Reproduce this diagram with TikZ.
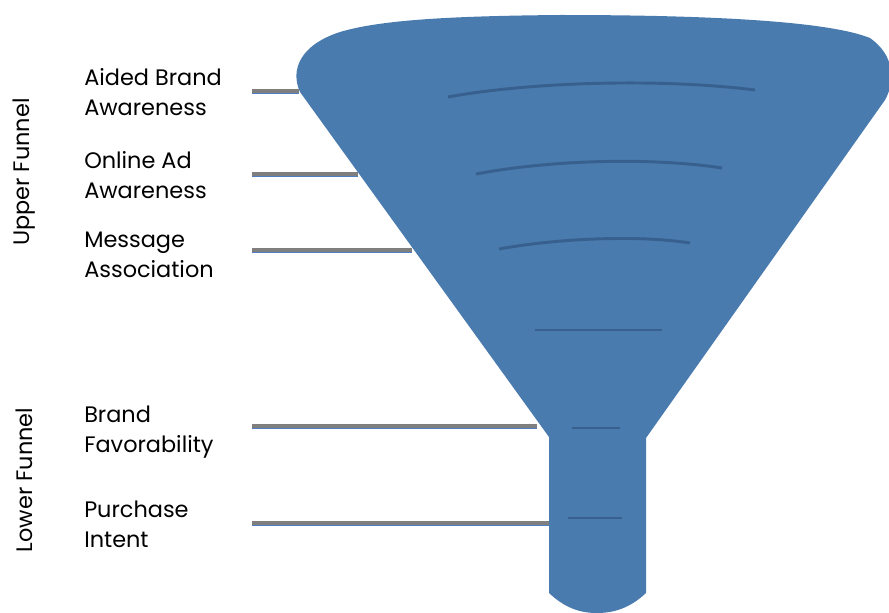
\documentclass[tikz,border=0pt]{standalone}
\usepackage{xcolor}
\usepackage{fontspec}
\setmainfont{Poppins}

\definecolor{funnelblue}{HTML}{4A7BAE}
\definecolor{ribblue}{HTML}{37608E}
\definecolor{leadgray}{HTML}{7F7F7F}
\definecolor{leadblue}{HTML}{4F7FC0}

\tikzset{
  label/.style={anchor=west, align=left, font=\fontsize{16.8}{22.5}\selectfont, inner sep=0pt},
  side/.style={rotate=90, font=\fontsize{16.8}{20}\selectfont, inner sep=0pt},
  rib/.style={draw=ribblue, line width=2.2},
  leader/.style={draw=leadgray, line width=3},
  leaderedge/.style={draw=leadblue, line width=1.2}
}

\begin{document}
\begin{tikzpicture}[x=0.75pt, y=-0.75pt]
\useasboundingbox (0,0) rectangle (889,613);

% funnel body
\fill[funnelblue] (300,92) -- (549,437) -- (549,593)
  .. controls (565,608) and (580,613) .. (597,613)
  .. controls (614,613) and (630,608) .. (646,593)
  -- (646,438) -- (885,100)
  .. controls (896,80) and (894,55) .. (870,38)
  .. controls (830,22) and (720,15) .. (560,15)
  .. controls (450,16) and (380,20) .. (340,32)
  .. controls (300,45) and (290,70) .. (300,92) -- cycle;

% ribs inside the funnel
\draw[rib] (448,97) .. controls (530,82) and (660,78) .. (755,90);
\draw[rib] (476,174) .. controls (550,160) and (650,157) .. (722,168);
\draw[rib] (499,249) .. controls (560,238) and (640,235) .. (690,243);
\draw[rib] (535,330) -- (662,330);
\draw[rib, line width=1.4] (572,428) -- (620,428);
\draw[rib] (568,518) -- (622,518);

% labels
\node[label] (aided) at (84,92) {Aided Brand\\Awareness};
\node[label] (online) at (84,175) {Online Ad\\Awareness};
\node[label] (message) at (84,255) {Message\\Association};
\node[label] (favor) at (84,432) {Brand\\Favorability};
\node[label] (intent) at (84,524) {Purchase\\Intent};

\node[side] (upper) at (24,172) {Upper Funnel};
\node[side] (lower) at (24,480) {Lower Funnel};

% leader lines
\coordinate (a0) at (252,91);  \coordinate (a1) at (299,91);
\coordinate (o0) at (252,174); \coordinate (o1) at (358,174);
\coordinate (m0) at (252,250); \coordinate (m1) at (412,250);
\coordinate (f0) at (252,426); \coordinate (f1) at (537,426);
\coordinate (i0) at (252,523); \coordinate (i1) at (549,523);

\foreach \s/\e in {a0/a1, o0/o1, m0/m1, f0/f1, i0/i1} {
  \draw[leaderedge] ([yshift=-2]\s) -- ([yshift=-2]\e);
  \draw[leader] (\s) -- (\e);
}
\end{tikzpicture}
\end{document}
